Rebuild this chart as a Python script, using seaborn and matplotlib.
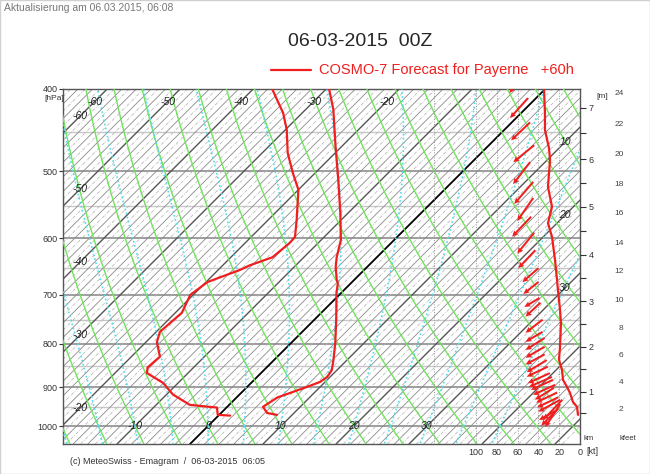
import numpy as np
import seaborn as sns
import matplotlib.pyplot as plt
from matplotlib.lines import Line2D
from matplotlib.patches import Rectangle
from matplotlib.ticker import NullFormatter, FixedFormatter

sns.set_theme(style="white")
plt.rcParams['font.family'] = ['Liberation Sans', 'DejaVu Sans']

# temperature profile (hPa, degC)
temp_p = [400, 423, 468, 512, 560, 603, 632, 649, 672, 678, 697, 749, 797, 835,
          859, 875, 887, 899, 911, 925, 949, 965, 970]
temp_t = [-29.6, -26.2, -20.8, -15.9, -11.1, -7.3, -5.5, -4.3, -2.4, -1.8, -0.6,
          3.0, 6.0, 8.1, 9.3, 9.6, 9.3, 8.2, 7.0, 5.6, 4.9, 6.3, 7.9]

# dew point profile (hPa, degC)
dew_p = [400, 427, 447, 476, 503, 526, 571, 598, 608, 632, 646, 654, 676, 700,
         735, 774, 796, 828, 853, 866, 889, 918, 944, 951, 970, 972]
dew_t = [-37.4, -32.6, -29.8, -26.5, -23.0, -20.0, -16.1, -14.0, -13.9, -14.3,
         -16.3, -17.0, -19.8, -20.4, -19.1, -19.5, -18.5, -16.1, -16.3, -15.6,
         -12.1, -9.1, -5.4, -1.3, -0.2, 1.6]

# wind speed profile (hPa, kt)
wspd_p = [400, 427, 447, 470, 485, 522, 551, 576, 598, 637, 672, 691, 729, 756,
          806, 835, 859, 882, 899, 914, 937, 949, 970]
wspd_kt = [34.6, 33.7, 33.7, 29.8, 28.8, 30.8, 26.9, 30.8, 26.9, 24.0, 22.1, 21.2,
           19.2, 18.3, 19.2, 20.2, 17.3, 16.3, 12.5, 9.6, 6.7, 2.9, 1.9]

# wind arrows: level (hPa), position (kt), vector components
arrow_p = [400, 410, 438, 466, 488, 515, 538, 566, 591, 620, 651, 676, 706, 715,
           749, 774, 787, 806, 823, 836, 851, 866, 875, 882, 894, 901, 913, 925,
           931, 931, 942, 954, 960]
arrow_kt = [65, 50, 48, 44, 48, 45, 45, 47, 44, 43, 40, 40, 39, 38, 36, 36, 34, 34,
            34, 32, 31, 29, 27, 26, 24, 25, 22, 21, 19, 17, 19, 21, 24]
arrow_u = [-3, -18, -19, -21, -17, -19, -16, -19, -17, -17, -16, -15, -15, -15, -17,
           -17, -19, -19, -19, -20, -21, -22, -23, -22, -22, -19, -21, -21, -22,
           -19, -15, -17, -16]
arrow_v = [-4, -20, -18, -17, -22, -22, -23, -20, -21, -18, -14, -12, -9, -14, -13,
           -10, -12, -11, -10, -12, -10, -10, -10, -10, -10, -12, -10, -10, -12,
           -20, -23, -17, -9]

# altitude scale
km_labels = [1, 2, 3, 4, 5, 6, 7]
km_p = [911, 806, 712, 628, 551, 484, 421]

isobars = [450, 500, 550, 600, 650, 700, 750, 800, 850, 900, 950, 1000]
speed_ticks = [100, 80, 60, 40, 20, 0]

K = 50.41  # skew factor


def skew(t, p):
    return np.asarray(t, float) + K * np.log(1000.0 / np.asarray(p, float))


def es(tk):
    return 6.112 * np.exp(17.67 * (tk - 273.15) / (tk - 29.65))


def moist(t0, p_end):
    Rd, Cp, Lv, eps = 287.04, 1005.7, 2.501e6, 0.622
    ps = np.linspace(1000, p_end, 150)
    tk = t0 + 273.15
    out = [tk]
    for i in range(1, len(ps)):
        dp = ps[i] - ps[i - 1]
        p = ps[i - 1]
        rs = eps * es(tk) / (p - es(tk))
        g = (Rd * tk + Lv * rs) / (p * (Cp + Lv ** 2 * rs * eps / (Rd * tk ** 2)))
        tk = tk + g * dp
        out.append(tk)
    return ps, np.array(out) - 273.15


fig = plt.figure(figsize=(6.5, 4.74), dpi=100)
ax = fig.add_axes([63 / 650, 30 / 474, 517 / 650, 355 / 474])
ax.set_yscale('log')
ax.set_ylim(1050, 400)
ax.set_xlim(-19.86, 50.96)

pp = np.linspace(400, 1050, 60)

# isobars
for p in isobars:
    major = p % 100 == 0
    ax.axhline(p, color='#8c8c8c' if major else '#c8c8c8', lw=1.2 if major else 1.0, zorder=1)

# isotherms
for t in range(-100, 52):
    if t == 0:
        c, lw, ls = '#000000', 1.3, '-'
    elif t % 10 == 0:
        c, lw, ls = '#555555', 1.0, '-'
    elif t % 2 == 0:
        c, lw, ls = '#8a8a8a', 0.6, '-'
    else:
        c, lw, ls = '#b0b0b0', 0.5, (0, (5, 2, 1, 2))
    ax.plot(skew([t, t], [1050, 400]), [1050, 400], color=c, lw=lw, ls=ls, zorder=2)

# dry adiabats
for th in range(-40, 95, 5):
    tt = (th + 273.15) * (pp / 1000.0) ** 0.2857 - 273.15
    ax.plot(skew(tt, pp), pp, color='#72e25e', lw=1.0, zorder=3)

# moist adiabats
for tw in range(-20, 41, 5):
    p1, t1 = moist(tw, 400)
    p2, t2 = moist(tw, 1050)
    ax.plot(skew(t1, p1), p1, color='#4fdcef', lw=1.2, ls=(0, (1, 1.5)), zorder=3)
    ax.plot(skew(t2, p2), p2, color='#4fdcef', lw=1.2, ls=(0, (1, 1.5)), zorder=3)

# isotherm labels
lab = dict(fontsize=7.5, style='italic', color='#222222', ha='center', va='center', zorder=4)
for t in [-60, -50, -40, -30, -20]:
    ax.text(skew(t, 414), 414, str(t), **lab)
x_left = (80 - 208) / 7.3
for t in [-60, -50, -40, -30, -20]:
    p = 1000 * np.exp(-(x_left - t) / K)
    ax.text(x_left, p, str(t), **lab)
x_right = (565 - 208) / 7.3
for t in [10, 20, 30]:
    p = 1000 * np.exp(-(x_right - t) / K)
    ax.text(x_right, p, str(t), **lab)
for t in [-10, 0, 10, 20, 30]:
    ax.text(t, 1000, str(t), **lab)

# profiles
sns.lineplot(x=skew(temp_t, temp_p), y=temp_p, sort=False, estimator=None,
             color='#f01e1e', lw=1.6, ax=ax, zorder=6)
sns.lineplot(x=skew(dew_t, dew_p), y=dew_p, sort=False, estimator=None,
             color='#f01e1e', lw=1.6, ax=ax, zorder=6)

ax.set_yticks([400, 500, 600, 700, 800, 900, 1000])
ax.yaxis.set_major_formatter(FixedFormatter(['400', '500', '600', '700', '800', '900', '1000']))
ax.yaxis.set_minor_locator(plt.NullLocator())
ax.yaxis.set_minor_formatter(NullFormatter())
ax.tick_params(axis='y', direction='out', length=3, width=0.8, labelsize=6.5, pad=1,
               colors='#333333', left=True)
ax.set_xticks([])
ax.set_xlabel('')
ax.set_ylabel('')
for s in ax.spines.values():
    s.set_color('#555555')
    s.set_linewidth(1.0)

# wind panel
ax2 = ax.twiny()
ax2.set_xlim(497.1, 0)
for k in [140, 100, 80, 60, 40, 20]:
    ax2.axvline(k, color='#999999', lw=0.7, ls=':', zorder=1)
sns.lineplot(x=wspd_kt, y=wspd_p, sort=False, estimator=None, color='#f01e1e',
             lw=1.6, ax=ax2, zorder=6)
ax2.quiver(arrow_kt, arrow_p, arrow_u, arrow_v, angles='uv', scale_units='inches',
           scale=100, pivot='tail', color='#f01e1e', units='inches', width=0.02,
           headwidth=2.8, headlength=3.0, headaxislength=2.7, zorder=7)
ax2.set_xticks(speed_ticks)
ax2.set_xticklabels([str(k) for k in speed_ticks])
ax2.xaxis.tick_bottom()
ax2.tick_params(axis='x', length=0, labelsize=6.5, pad=3, colors='#333333')
ax2.set_xlabel('')
ax2.set_ylabel('')
for s in ax2.spines.values():
    s.set_visible(False)

# altitude axis (km)
ax3 = ax.twinx()
ax3.set_yscale('log')
ax3.set_ylim(1050, 400)
fit = np.polyfit(km_labels, np.log(km_p), 2)
ax3.yaxis.set_major_locator(plt.FixedLocator(km_p))
ax3.yaxis.set_major_formatter(FixedFormatter([str(k) for k in km_labels]))
ax3.yaxis.set_minor_locator(plt.FixedLocator(np.exp(np.polyval(fit, np.arange(0.5, 7.6, 1.0)))))
ax3.yaxis.set_minor_formatter(NullFormatter())
ax3.tick_params(axis='y', which='both', direction='out', length=4, width=0.8,
                labelsize=6.5, pad=2, colors='#333333')
for s in ax3.spines.values():
    s.set_visible(False)

# altitude axis (kfeet)
ax4 = fig.add_axes([636 / 650, 30 / 474, 0.001, 355 / 474])
ax4.set_yscale('log')
ax4.set_ylim(1050, 400)
kft = np.arange(2, 25)
ax4.yaxis.set_major_locator(plt.FixedLocator(np.exp(np.polyval(fit, kft * 0.3048))))
ax4.yaxis.set_major_formatter(FixedFormatter([str(k) if k % 2 == 0 else '' for k in kft]))
ax4.yaxis.set_minor_locator(plt.FixedLocator(np.exp(np.polyval(fit, (kft[:-1] + 0.5) * 0.3048))))
ax4.yaxis.set_minor_formatter(NullFormatter())
ax4.tick_params(axis='y', which='major', direction='out', length=7, width=0.8,
                labelsize=6, pad=2, colors='#444444')
ax4.tick_params(axis='y', which='minor', direction='out', length=3, width=0.8,
                colors='#444444')
ax4.set_xticks([])
ax4.patch.set_visible(False)
for s in ax4.spines.values():
    s.set_visible(False)


# texts
def ftext(x, y, s, **kw):
    fig.text(x / 650, 1 - y / 474, s, **kw)


ftext(4, 8, 'Aktualisierung am 06.03.2015, 06:08', fontsize=7.5, color='#777777',
      va='center')
ftext(360, 42, '06-03-2015  00Z', fontsize=14, ha='center', va='center')
fig.add_artist(Line2D([271 / 650, 311 / 650], [1 - 70 / 474, 1 - 70 / 474],
                      color='#f01e1e', lw=1.6))
ftext(319, 70, 'COSMO-7 Forecast for Payerne   +60h', fontsize=10.5, color='#f01e1e',
      va='center')
ftext(44, 98, '[hPa]', fontsize=6, color='#333333', va='center')
ftext(596, 97, '[m]', fontsize=6, color='#333333', va='center')
ftext(584, 438, 'km', fontsize=5.5, color='#333333', va='center')
ftext(619, 438, 'kfeet', fontsize=5.5, color='#333333', va='center')
ftext(586, 452, '[kt]', fontsize=6.5, color='#333333', va='center')
ftext(70, 461, '(c) MeteoSwiss - Emagram  /  06-03-2015  06:05', fontsize=6.5,
      color='#333333', va='center')
fig.add_artist(Rectangle((0, 0), 1, 1, transform=fig.transFigure, fill=False,
                         ec='#d0d0d0', lw=1))

fig.savefig('out.png', dpi=100)
